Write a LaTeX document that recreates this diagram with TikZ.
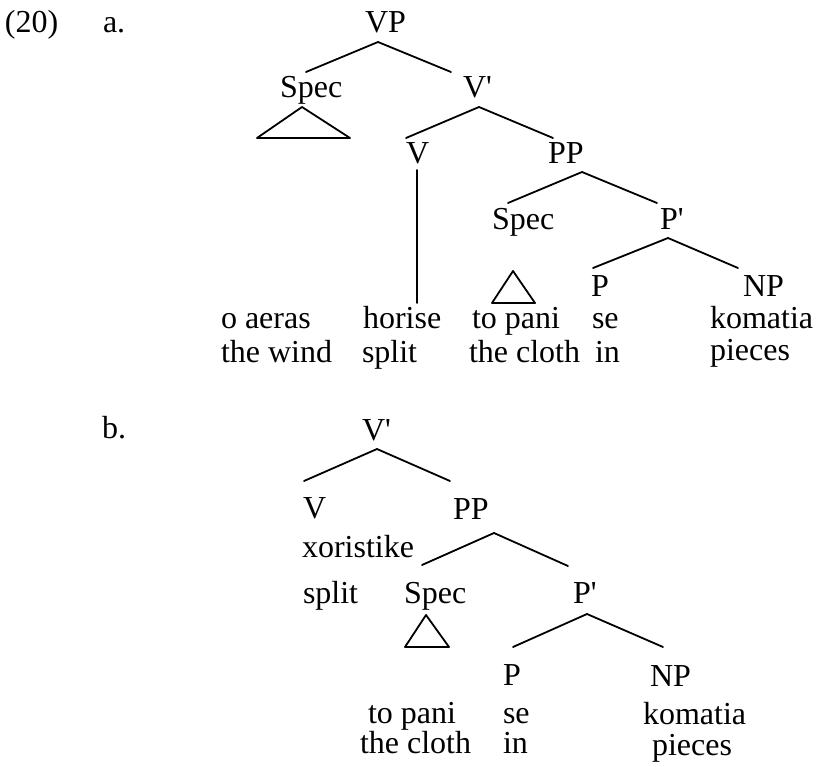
\documentclass[tikz,border=0pt]{standalone}
\usepackage{fontspec}
\setmainfont{Liberation Serif}
\newcommand{\treefont}{\fontsize{32}{34}\selectfont}
\newcommand{\pr}{\textquotesingle}
\begin{document}
\begin{tikzpicture}[x=1pt,y=-1pt,
  lbl/.style={anchor=base west, inner sep=0pt, outer sep=0pt, font=\treefont},
  branch/.style={line width=1.8pt, line cap=round, line join=round}]
\useasboundingbox (0,0) rectangle (816,767);
% ---------- (20) a. ----------
\node[lbl] (num) at (5,33) {(20)};
\node[lbl] (la) at (103,33) {a.};
\node[lbl] (aVP) at (365,33) {VP};
\node[lbl] (aSpec) at (280,98) {Spec};
\node[lbl] (aVbar) at (463,98) {V\pr};
\node[lbl] (aV) at (406,164) {V};
\node[lbl] (aPP) at (548,164) {PP};
\node[lbl] (aSpec2) at (492,230) {Spec};
\node[lbl] (aPbar) at (660,230) {P\pr};
\node[lbl] (aP) at (591,296) {P};
\node[lbl] (aNP) at (743,296) {NP};
\node[lbl] (aw1) at (221,328) {o aeras};
\node[lbl] (ag1) at (221,362) {the wind};
\node[lbl] (aw2) at (363,328) {horise};
\node[lbl] (ag2) at (362,362) {split};
\node[lbl] (aw3) at (472,328) {to pani};
\node[lbl] (ag3) at (469,362) {the cloth};
\node[lbl] (aw4) at (592,328) {se};
\node[lbl] (ag4) at (595,362) {in};
\node[lbl] (aw5) at (710,328) {komatia};
\node[lbl] (ag5) at (710,360) {pieces};
% branch points, tree a
\coordinate (aVP-t) at (378,42);
\coordinate (aVP-l) at (306,72);
\coordinate (aVP-r) at (451,72);
\coordinate (aSpec-t) at (302,107);
\coordinate (aSpec-l) at (257,138);
\coordinate (aSpec-r) at (350,138);
\coordinate (aVbar-t) at (479,107);
\coordinate (aVbar-l) at (406,138);
\coordinate (aVbar-r) at (553,138);
\coordinate (aV-t) at (417,170);
\coordinate (aV-b) at (417,303);
\coordinate (aPP-t) at (582,172);
\coordinate (aPP-l) at (508,203);
\coordinate (aPP-r) at (657,203);
\coordinate (aSpec2-t) at (513,271);
\coordinate (aSpec2-l) at (492,303);
\coordinate (aSpec2-r) at (535,303);
\coordinate (aPbar-t) at (668,238);
\coordinate (aPbar-l) at (593,268);
\coordinate (aPbar-r) at (738,268);
\draw[branch] (aVP-l) -- (aVP-t) -- (aVP-r);
\draw[branch] (aSpec-t) -- (aSpec-l) -- (aSpec-r) -- cycle;
\draw[branch] (aVbar-l) -- (aVbar-t) -- (aVbar-r);
\draw[branch] (aV-t) -- (aV-b);
\draw[branch] (aPP-l) -- (aPP-t) -- (aPP-r);
\draw[branch] (aSpec2-t) -- (aSpec2-l) -- (aSpec2-r) -- cycle;
\draw[branch] (aPbar-l) -- (aPbar-t) -- (aPbar-r);
% ---------- b. ----------
\node[lbl] (lb) at (102,438) {b.};
\node[lbl] (bVbar) at (362,440) {V\pr};
\node[lbl] (bV) at (303,518) {V};
\node[lbl] (bPP) at (453,519) {PP};
\node[lbl] (bw1) at (302,557) {xoristike};
\node[lbl] (bg1) at (303,603) {split};
\node[lbl] (bSpec) at (404,603) {Spec};
\node[lbl] (bPbar) at (573,603) {P\pr};
\node[lbl] (bP) at (503,685) {P};
\node[lbl] (bNP) at (650,686) {NP};
\node[lbl] (bw2) at (368,723) {to pani};
\node[lbl] (bg2) at (360,753) {the cloth};
\node[lbl] (bw3) at (503,723) {se};
\node[lbl] (bg3) at (503,753) {in};
\node[lbl] (bw4) at (643,724) {komatia};
\node[lbl] (bg4) at (652,755) {pieces};
% branch points, tree b
\coordinate (bVbar-t) at (377,449);
\coordinate (bVbar-l) at (304,481);
\coordinate (bVbar-r) at (450,481);
\coordinate (bPP-t) at (494,533);
\coordinate (bPP-l) at (422,565);
\coordinate (bPP-r) at (568,566);
\coordinate (bSpec-t) at (426,615);
\coordinate (bSpec-l) at (405,647);
\coordinate (bSpec-r) at (449,647);
\coordinate (bPbar-t) at (587,614);
\coordinate (bPbar-l) at (513,647);
\coordinate (bPbar-r) at (663,647);
\draw[branch] (bVbar-l) -- (bVbar-t) -- (bVbar-r);
\draw[branch] (bPP-l) -- (bPP-t) -- (bPP-r);
\draw[branch] (bSpec-t) -- (bSpec-l) -- (bSpec-r) -- cycle;
\draw[branch] (bPbar-l) -- (bPbar-t) -- (bPbar-r);
\end{tikzpicture}
\end{document}
